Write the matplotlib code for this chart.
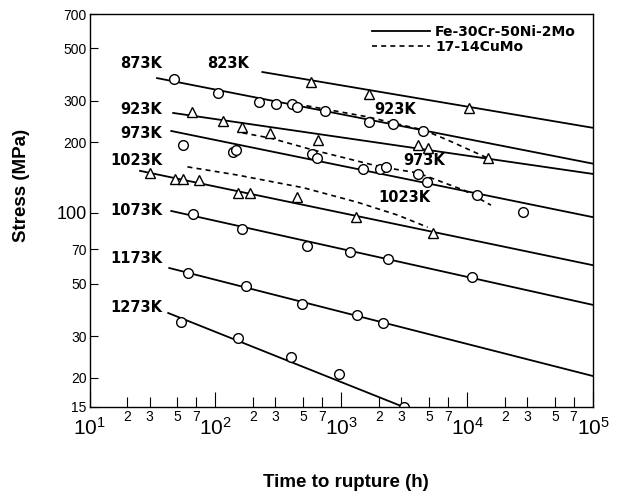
import matplotlib.pyplot as plt

plt.rcParams['font.family'] = ['Liberation Sans', 'DejaVu Sans']
plt.rcParams['mathtext.fontset'] = 'custom'
plt.rcParams['mathtext.rm'] = 'Liberation Sans'

# Fe-30Cr-50Ni-2Mo fitted lines (time h, stress MPa)
t823_fit, s823_fit = [236, 1e5], [397, 230]
t873_fit, s873_fit = [34.4, 1e5], [374, 162]
t923_fit, s923_fit = [46.2, 1e5], [266, 146.5]
t973_fit, s973_fit = [44.6, 1e5], [223, 96]
t1023_fit, s1023_fit = [25.2, 1e5], [151, 60]
t1073_fit, s1073_fit = [44.6, 1e5], [102, 40.7]
t1173_fit, s1173_fit = [43, 1e5], [58.4, 20.3]
t1273_fit, s1273_fit = [42.2, 3130], [37.6, 15]

# measured points (triangles)
t823 = [570, 1650, 10300]
s823 = [360, 320, 279]
t923 = [65, 116, 164, 274, 659, 4050, 4860, 14600]
s923 = [268, 246, 232, 219, 204, 194, 189, 171]
t1023 = [30, 48, 55, 74, 152, 190, 449, 1300, 5330]
s1023 = [148, 139, 139, 138, 122, 122, 117, 96, 82]

# measured points (circles)
t873 = [47, 105, 224, 305, 409, 449, 736, 1650, 2560, 4430]
s873 = [371, 323, 296, 290, 290, 282, 271, 243, 239, 223]
t973 = [55, 137, 147, 590, 647, 1480, 2020, 2250, 4050, 4770, 11900, 27700]
s973 = [194, 182, 185, 178, 171, 154, 154, 157, 146, 135, 119, 101]
t1073 = [67, 164, 530, 1165, 2340, 10900]
s1073 = [99, 85.5, 72.4, 68.3, 63.8, 53.5]
t1173 = [61, 176, 492, 1325, 2130]
s1173 = [55.6, 49, 41.1, 36.9, 34.1]
t1273 = [53.5, 152, 402, 951, 3130]
s1273 = [34.5, 29.5, 24.5, 20.7, 15.0]

# 17-14CuMo curves
tcu923 = [449, 1620, 2610, 4520, 7020, 14600]
scu923 = [290, 256, 241, 225, 204, 171]
tcu973 = [164, 274, 601, 2055, 4050, 9420, 15450]
scu973 = [219, 208, 185, 157, 148, 125, 108]
tcu1023 = [60, 149, 501, 1350, 2800, 4860]
scu1023 = [157, 145, 128, 111, 98, 87]

x_major = [10, 100, 1000, 10000, 100000]
x_major_labels = [r'$\mathregular{10^{%d}}$' % i for i in range(1, 6)]
x_minor = [m * 10 ** d for d in range(1, 5) for m in (2, 3, 5, 7)]
x_minor_labels = [str(m) for d in range(1, 5) for m in (2, 3, 5, 7)]
y_ticks = [15, 20, 30, 50, 70, 100, 200, 300, 500, 700]

fig = plt.figure(figsize=(6.22, 4.95), dpi=100)
ax = fig.add_axes([0.1439, 0.1778, 0.8095, 0.7939])
ax.set_xscale('log')
ax.set_yscale('log')

lw = 1.3
fits = [(t823_fit, s823_fit), (t873_fit, s873_fit), (t923_fit, s923_fit),
        (t973_fit, s973_fit), (t1023_fit, s1023_fit), (t1073_fit, s1073_fit),
        (t1173_fit, s1173_fit), (t1273_fit, s1273_fit)]
for i, (t, s) in enumerate(fits):
    ax.plot(t, s, color='black', lw=lw,
            label='Fe-30Cr-50Ni-2Mo' if i == 0 else None)

for i, (t, s) in enumerate([(tcu923, scu923), (tcu973, scu973), (tcu1023, scu1023)]):
    ax.plot(t, s, color='black', lw=1.2, linestyle=(0, (3, 2.5)),
            label='17-14CuMo' if i == 0 else None)

for t, s in [(t823, s823), (t923, s923), (t1023, s1023)]:
    ax.plot(t, s, '^', ms=6.5, mfc='white', mec='black', mew=1.0)
for t, s in [(t873, s873), (t973, s973), (t1073, s1073), (t1173, s1173), (t1273, s1273)]:
    ax.plot(t, s, 'o', ms=7, mfc='white', mec='black', mew=1.0)

ax.set_xlim(10, 1e5)
ax.set_ylim(15, 700)

ax.set_xticks(x_major, labels=x_major_labels)
ax.set_xticks(x_minor, labels=x_minor_labels, minor=True)
ax.set_yticks(y_ticks, labels=[str(v) for v in y_ticks])
ax.set_yticks([], minor=True)
ax.tick_params(axis='x', which='major', direction='in', length=11, width=0.8,
               pad=7, labelsize=15)
ax.tick_params(axis='x', which='minor', direction='in', length=7, width=0.8,
               pad=2, labelsize=10)
ax.tick_params(axis='y', direction='in', length=6, width=0.8, pad=2, labelsize=10)
for lbl in ax.get_yticklabels():
    if lbl.get_text() == '100':
        lbl.set_fontsize(13)
for sp in ax.spines.values():
    sp.set_linewidth(1.0)

# temperature labels
tfont = dict(family='DejaVu Sans', fontweight='bold', fontsize=10.5,
             transform=ax.transAxes, va='center')
for txt, yf in [('873K', 0.875), ('923K', 0.756), ('973K', 0.697),
                ('1023K', 0.628), ('1073K', 0.501), ('1173K', 0.379),
                ('1273K', 0.254)]:
    ax.text(0.144, yf, txt, ha='right', **tfont)
ax.text(0.275, 0.875, '823K', ha='center', **tfont)
ax.text(0.607, 0.756, '923K', ha='center', **tfont)
ax.text(0.664, 0.628, '973K', ha='center', **tfont)
ax.text(0.625, 0.534, '1023K', ha='center', **tfont)

ax.legend(loc='upper left', bbox_to_anchor=(0.561, 0.972), frameon=False,
          borderpad=0, borderaxespad=0, handlelength=4.2, handletextpad=0.35,
          labelspacing=0.05, prop=dict(family='DejaVu Sans', weight='bold', size=10))

fig.text(0.034, 0.626, 'Stress (MPa)', rotation=90, ha='center', va='center',
         fontsize=13.5, fontweight='bold')
fig.text(0.556, 0.026, 'Time to rupture (h)', ha='center', va='center',
         fontsize=13.5, fontweight='bold')

fig.savefig('out.png', dpi=100)
